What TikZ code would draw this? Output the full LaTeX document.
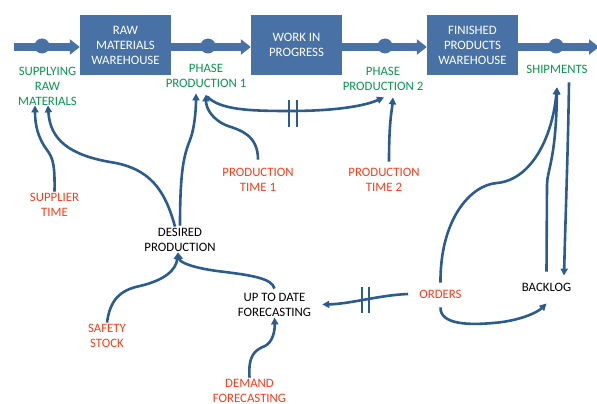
\documentclass[tikz,border=0pt]{standalone}
\usepackage{fontspec}
\setmainfont{Carlito}
\usetikzlibrary{arrows.meta}
\definecolor{boxblue}{RGB}{72,114,166}
\definecolor{linkblue}{RGB}{44,92,142}
\definecolor{flowgreen}{RGB}{8,150,78}
\definecolor{auxred}{RGB}{255,58,24}
\tikzset{
  stock/.style={fill=boxblue, draw=none, minimum width=91pt, minimum height=60pt, inner sep=0pt,
                text=white, align=center, font=\fontsize{12.8}{15}\selectfont},
  pipe/.style={draw=boxblue, line width=8pt, -{Triangle[length=10pt,width=15pt]}},
  valve/.style={circle, fill=boxblue, draw=none, minimum size=15pt, inner sep=0pt},
  lbl/.style={align=center, inner sep=1pt, font=\fontsize{12.8}{15}\selectfont},
  flowlbl/.style={lbl, text=flowgreen},
  auxlbl/.style={lbl, text=auxred},
  varlbl/.style={lbl, text=black},
  link/.style={draw=linkblue, line width=2.6pt, -{Triangle[length=7pt,width=7pt]}},
  delaybar/.style={draw=linkblue, line width=2.6pt}
}
\begin{document}
\begin{tikzpicture}[x=1pt,y=-1pt]
\useasboundingbox (0,0) rectangle (597,404);

% stocks
\node[stock] (rw)  at (125.5,45) {RAW\\MATERIALS\\WAREHOUSE};
\node[stock] (wip) at (296.5,45) {WORK IN\\PROGRESS};
\node[stock] (fpw) at (472.5,45) {FINISHED\\PRODUCTS\\WAREHOUSE};
\coordinate (src) at (14,47);
\coordinate (snk) at (599,47);

% flows
\draw[pipe] (src) -- (rw.west |- src);
\draw[pipe] (rw.east |- src) -- (wip.west |- src);
\draw[pipe] (wip.east |- src) -- (fpw.west |- src);
\draw[pipe] (fpw.east |- src) -- (snk);

\node[valve] (v1) at (42,46) {};
\node[valve] (v2) at (208,46) {};
\node[valve] (v3) at (385,46) {};
\node[valve] (v4) at (556,46) {};

% labels
\node[flowlbl] (sup)  at (47.5,86) {SUPPLYING\\RAW\\MATERIALS};
\node[flowlbl] (ph1)  at (206,75.5) {PHASE\\PRODUCTION 1};
\node[flowlbl] (ph2)  at (383,78.5) {PHASE\\PRODUCTION 2};
\node[flowlbl] (ship) at (557,69) {SHIPMENTS};

\node[auxlbl] (pt1)     at (258,179.5) {PRODUCTION\\TIME 1};
\node[auxlbl] (pt2)     at (384,179.5) {PRODUCTION\\TIME 2};
\node[auxlbl] (suptime) at (54.5,204.5) {SUPPLIER\\TIME};
\node[auxlbl] (safety)  at (107,335.5) {SAFETY\\STOCK};
\node[auxlbl] (demand)  at (249.5,390.5) {DEMAND\\FORECASTING};
\node[auxlbl] (orders)  at (440.5,294) {ORDERS};

\node[varlbl] (des)     at (180,239.5) {DESIRED\\PRODUCTION};
\node[varlbl] (utd)     at (274.5,304.5) {UP TO DATE\\FORECASTING};
\node[varlbl] (backlog) at (546.5,287) {BACKLOG};

% connectors
\draw[link] (suptime.north) .. controls (55,165) and (53,158) .. (47,150)
            .. controls (38,138) and (35,125) .. ([xshift=-12.5pt,yshift=1pt]sup.south);
\draw[link] ([xshift=-5pt]des.north) .. controls (165,190) and (150,168) .. (110,162)
            .. controls (70,155) and (50,140) .. ([xshift=0.5pt,yshift=1pt]sup.south);
\draw[link] ([yshift=1pt]des.north) .. controls (180,170) and (184,155) .. (190,140)
            .. controls (194,130) and (196,112) .. ([xshift=-10pt,yshift=-5pt]ph1.south);
\draw[link] ([yshift=7pt]pt1.north) .. controls (258,135) and (240,130) .. (228,126)
            .. controls (212,120) and (206,108) .. ([yshift=-6pt]ph1.south);
\draw[link] ([xshift=1pt,yshift=-8pt]ph1.south) .. controls (220,110) and (250,111) .. (290,111)
            .. controls (330,111) and (362,107) .. ([xshift=1pt,yshift=-6pt]ph2.south);
\draw[delaybar] (289,100) -- (289,127) (297,100) -- (297,127);
\draw[link] ([xshift=5pt,yshift=5pt]pt2.north) .. controls (389,120) and (392,110) .. ([xshift=10pt,yshift=-6pt]ph2.south);

\draw[link] ([yshift=6pt]orders.north) .. controls (440,220) and (470,185) .. (497,183)
            .. controls (530,180) and (552,140) .. ([yshift=-13pt]ship.south);
\draw[link] ([yshift=10pt]backlog.north) -- (547,185) .. controls (547,170) and (556,160) .. ([yshift=-13pt]ship.south);
\draw[link] ([xshift=12pt,yshift=-8pt]ship.south) .. controls (568,150) and (566,200) .. ([xshift=17.5pt,yshift=6pt]backlog.north);
\draw[link] ([yshift=-8pt]orders.south) .. controls (440,325) and (470,325) .. (493,323)
            .. controls (520,321) and (538,312) .. ([yshift=-11pt]backlog.south);
\draw[link] ([xshift=-10pt]orders.west) .. controls (380,295) and (350,304) .. ([xshift=10pt]utd.east);
\draw[delaybar] (362,287) -- (362,313) (369,287) -- (369,313);

\draw[link] ([yshift=3pt]utd.north) .. controls (272,278) and (250,275) .. (217,271)
            .. controls (195,268) and (180,263) .. ([xshift=-2pt]des.south);
\draw[link] (safety.north) .. controls (110,300) and (120,290) .. (140,286)
            .. controls (165,280) and (176,270) .. ([xshift=-2pt]des.south);
\draw[link] (demand.north) .. controls (248,355) and (255,350) .. (265,346)
            .. controls (273,342) and (275,330) .. (utd.south);
\end{tikzpicture}
\end{document}
